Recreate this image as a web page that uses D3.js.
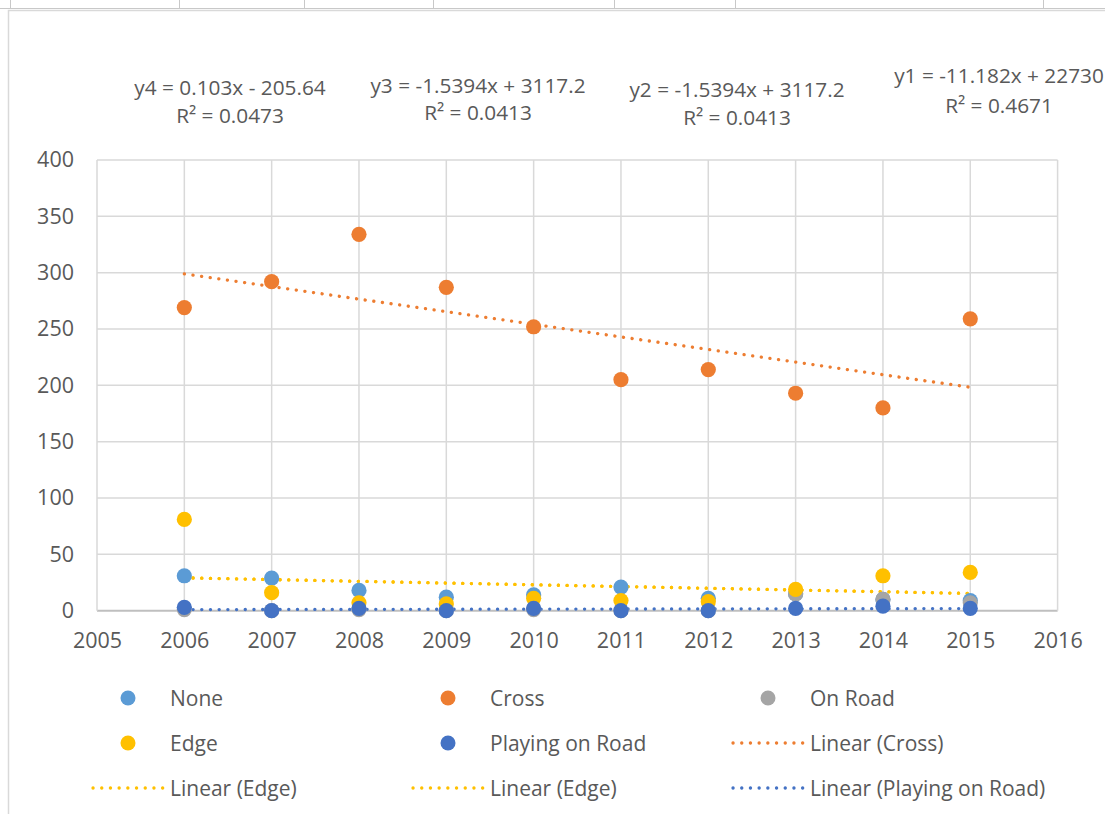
<!DOCTYPE html>
<html>
<head>
<meta charset="utf-8">
<script src="https://cdn.jsdelivr.net/npm/d3@7/dist/d3.min.js"></script>
<style>
  html, body { margin: 0; padding: 0; background: #fff; }
  svg { display: block; }
  text { font-family: "Open Sans", "Liberation Sans", sans-serif; fill: #595959; }
</style>
</head>
<body>
<svg id="chart" width="1105" height="814"></svg>
<script>
// Casualty counts per year, by position of the pedestrian
const years = [2006, 2007, 2008, 2009, 2010, 2011, 2012, 2013, 2014, 2015];
const noneVals    = [31, 29, 18, 12, 14, 21, 11, 15, 10, 9];
const crossVals   = [269, 292, 334, 287, 252, 205, 214, 193, 180, 259];
const onRoadVals  = [1, 0, 1, 0, 1, 0, 0, 15, 10, 7];
const edgeVals    = [81, 16, 7, 6, 11, 9, 8, 19, 31, 34];
const playingVals = [3, 0, 2, 0, 2, 0, 0, 2, 4, 2];

const seriesNames  = ["None", "Cross", "On Road", "Edge", "Playing on Road"];
const seriesColors = ["#5B9BD5", "#ED7D31", "#A5A5A5", "#FFC000", "#4472C4"];
const seriesValues = [noneVals, crossVals, onRoadVals, edgeVals, playingVals];

// Linear trendlines (slope, intercept, R²) as printed on the chart
const trendNames      = ["y1", "y2", "y3", "y4"];
const trendSeries     = ["Cross", "Edge", "Edge", "Playing on Road"];
const trendSlopes     = [-11.182, -1.5394, -1.5394, 0.103];
const trendIntercepts = [22730, 3117.2, 3117.2, -205.64];
const trendR2         = [0.4671, 0.0413, 0.0413, 0.0473];

const xTicks = [2005, 2006, 2007, 2008, 2009, 2010, 2011, 2012, 2013, 2014, 2015, 2016];
const yTicks = [0, 50, 100, 150, 200, 250, 300, 350, 400];

const svg = d3.select("#chart");

// spreadsheet cells peeking above the chart object
const cellEdges = [10.5, 179.5, 304.5, 433.5, 614.5, 735.5, 1043.5];
svg.append("line").attr("x1", 0).attr("x2", 1105).attr("y1", 8.5).attr("y2", 8.5)
  .attr("stroke", "#C8C8C8").attr("stroke-width", 1);
svg.selectAll("line.cell").data(cellEdges).join("line").attr("class", "cell")
  .attr("x1", d => d).attr("x2", d => d).attr("y1", 0).attr("y2", 8.5)
  .attr("stroke", "#C8C8C8").attr("stroke-width", 1);

// chart area frame
svg.append("rect").attr("x", 8.5).attr("y", 10.5).attr("width", 1200).attr("height", 900)
  .attr("fill", "#fff").attr("stroke", "#D9D9D9").attr("stroke-width", 1.5);

const x = d3.scaleLinear().domain([2005, 2016]).range([97, 1057.6]);
const y = d3.scaleLinear().domain([0, 400]).range([610.7, 160]);

// gridlines
const grid = svg.append("g");
grid.selectAll("line.h").data(yTicks).join("line").attr("class", "h")
  .attr("x1", x(2005)).attr("x2", x(2016))
  .attr("y1", d => y(d)).attr("y2", d => y(d))
  .attr("stroke", d => d === 0 ? "#BFBFBF" : "#D9D9D9")
  .attr("stroke-width", d => d === 0 ? 2 : 1.5);
grid.selectAll("line.v").data(xTicks).join("line").attr("class", "v")
  .attr("y1", y(0)).attr("y2", y(400))
  .attr("x1", d => x(d)).attr("x2", d => x(d))
  .attr("stroke", "#D9D9D9").attr("stroke-width", 1.5);

// axes (labels only; lines come from the grid)
const yAxis = svg.append("g").attr("transform", `translate(${x(2005)},0)`)
  .call(d3.axisLeft(y).tickValues(yTicks).tickSize(0).tickPadding(23));
const xAxis = svg.append("g").attr("transform", `translate(0,${y(0)})`)
  .call(d3.axisBottom(x).tickValues(xTicks).tickFormat(d3.format("d")).tickSize(0).tickPadding(22));
[yAxis, xAxis].forEach(a => {
  a.select(".domain").remove();
  a.selectAll("text").style("font-size", "21.5px").attr("fill", "#595959")
    .style("font-family", "'Open Sans', 'Liberation Sans', sans-serif");
});

// trendlines across the data range
const trendColor = name => seriesColors[seriesNames.indexOf(name)];
const x0 = d3.min(years), x1 = d3.max(years);
svg.append("g").selectAll("line").data(trendSlopes.map((m, i) => i).reverse()).join("line")
  .attr("x1", x(x0)).attr("x2", x(x1))
  .attr("y1", i => y(trendSlopes[i] * x0 + trendIntercepts[i]))
  .attr("y2", i => y(trendSlopes[i] * x1 + trendIntercepts[i]))
  .attr("stroke", i => trendColor(trendSeries[i]))
  .attr("stroke-width", 3.3).attr("stroke-linecap", "round")
  .attr("stroke-dasharray", "0.1 8.6");

// scatter markers, later series drawn on top
seriesValues.forEach((vals, s) => {
  svg.append("g").selectAll("circle").data(vals).join("circle")
    .attr("cx", (d, i) => x(years[i])).attr("cy", d => y(d))
    .attr("r", 7.6).attr("fill", seriesColors[s]);
});

// trendline equations
const eqPos = [[999, 76, 106], [737, 90, 118], [478, 86, 113], [230, 88, 116]];
const fmtEq = i => {
  const m = trendSlopes[i], b = trendIntercepts[i];
  return `${trendNames[i]} = ${m}x ${b < 0 ? "-" : "+"} ${Math.abs(b)}`;
};
trendNames.forEach((n, i) => {
  const [cx, yA, yB] = eqPos[i];
  const g = svg.append("g").attr("text-anchor", "middle").style("font-size", "20.8px");
  g.append("text").attr("x", cx).attr("y", yA).attr("dy", "0.36em").text(fmtEq(i));
  g.append("text").attr("x", cx).attr("y", yB).attr("dy", "0.36em").text(`R² = ${trendR2[i]}`);
});

// legend
const legendItems = [
  ...seriesNames.map((n, i) => ({ type: "marker", label: n, color: seriesColors[i] })),
  ...trendSeries.map(n => ({ type: "line", label: `Linear (${n})`, color: trendColor(n) }))
];
const colX = [128, 448, 768];
const rowY = [698, 743, 788];
const lg = svg.append("g").style("font-size", "21px");
legendItems.forEach((it, k) => {
  const cx = colX[k % 3], cy = rowY[Math.floor(k / 3)];
  if (it.type === "marker") {
    lg.append("circle").attr("cx", cx).attr("cy", cy).attr("r", 7.5).attr("fill", it.color);
  } else {
    lg.append("line").attr("x1", cx - 35).attr("x2", cx + 35).attr("y1", cy).attr("y2", cy)
      .attr("stroke", it.color).attr("stroke-width", 3.3).attr("stroke-linecap", "round")
      .attr("stroke-dasharray", "0.1 8.6");
  }
  lg.append("text").attr("x", cx + 42).attr("y", cy).attr("dy", "0.36em").text(it.label);
});
</script>
</body>
</html>
